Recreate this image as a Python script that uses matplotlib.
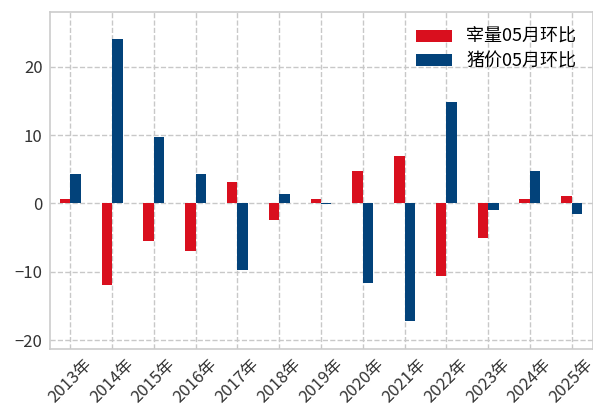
import matplotlib
matplotlib.use("Agg")
import matplotlib.pyplot as plt
import numpy as np

plt.rcParams['font.family'] = ['Noto Sans CJK SC', 'DejaVu Sans']
plt.rcParams['axes.unicode_minus'] = True

years = ['2013年', '2014年', '2015年', '2016年', '2017年', '2018年', '2019年',
         '2020年', '2021年', '2022年', '2023年', '2024年', '2025年']
slaughter = [0.6, -12.0, -5.5, -7.0, 3.1, -2.4, 0.6, 4.8, 7.0, -10.6, -5.1, 0.6, 1.1]
price = [4.3, 24.0, 9.7, 4.3, -9.7, 1.4, -0.1, -11.6, -17.2, 14.9, -1.0, 4.7, -1.5]

red = '#d90f1e'
blue = '#02427a'

fig = plt.figure(figsize=(5.93, 4.05), dpi=100)
ax = fig.add_axes([49.5 / 593, 1 - 349 / 405, (592.5 - 49.5) / 593, (349 - 11.7) / 405])

x = np.arange(len(years))
w = 0.25
ax.bar(x - w / 2, slaughter, w, color=red, label='宰量05月环比', zorder=2)
ax.bar(x + w / 2, price, w, color=blue, label='猪价05月环比', zorder=2)

ax.set_xlim(-0.5, len(years) - 0.5)
ax.set_ylim(-21.3, 28.05)
ax.set_yticks([-20, -10, 0, 10, 20])
ax.set_xticks(x)
ax.set_xticklabels(years, rotation=45, fontsize=12)
ax.tick_params(axis='y', labelsize=12)
ax.tick_params(length=0, pad=5, colors='#333333')

ax.grid(True, linestyle='--', color='#c8c8c8', linewidth=1, zorder=0)
ax.set_axisbelow(True)
for s in ax.spines.values():
    s.set_color('#cccccc')
    s.set_linewidth(1.2)

ax.legend(loc='upper right', frameon=False, fontsize=13, handlelength=2.0,
          handleheight=0.65, handletextpad=0.8, labelspacing=0.35,
          borderaxespad=0.5)

fig.savefig('out.png', dpi=100)
